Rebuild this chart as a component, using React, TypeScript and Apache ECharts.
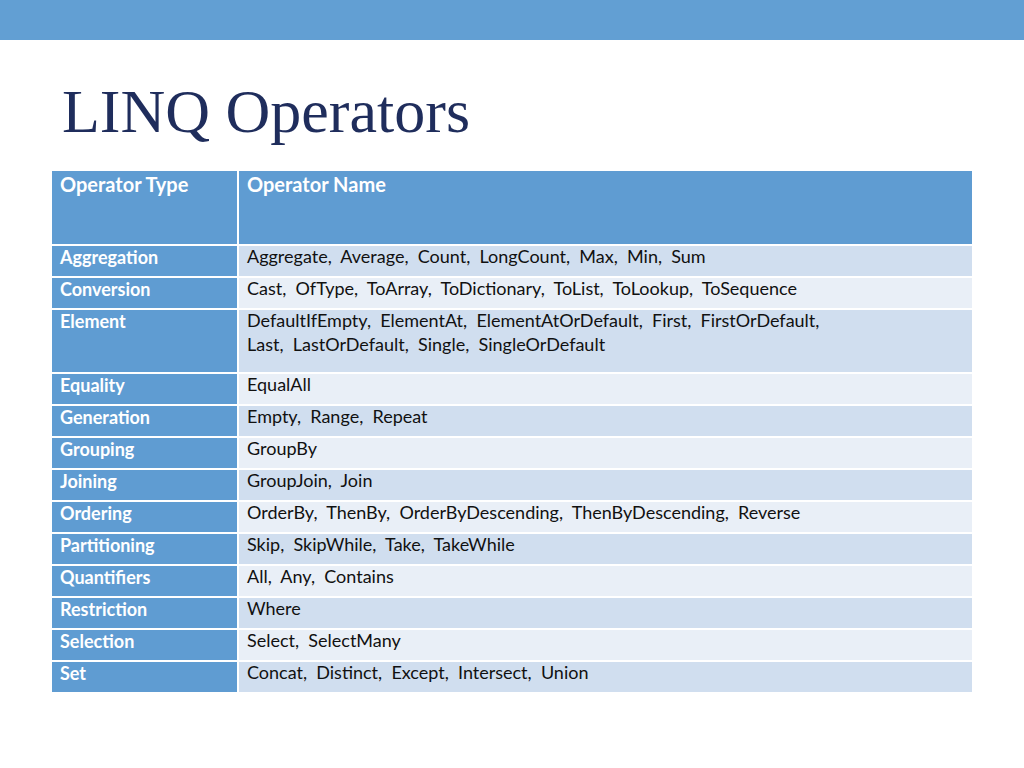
import React, { useEffect, useRef } from 'react';
import * as echarts from 'echarts';

const headers = ['Operator Type', 'Operator Name'];
const types = ['Aggregation', 'Conversion', 'Element', 'Equality', 'Generation', 'Grouping', 'Joining', 'Ordering', 'Partitioning', 'Quantifiers', 'Restriction', 'Selection', 'Set'];
const names = [
    'Aggregate,  Average,  Count,  LongCount,  Max,  Min,  Sum',
    'Cast,  OfType,  ToArray,  ToDictionary,  ToList,  ToLookup,  ToSequence',
    'DefaultIfEmpty,  ElementAt,  ElementAtOrDefault,  First,  FirstOrDefault,\nLast,  LastOrDefault,  Single,  SingleOrDefault',
    'EqualAll',
    'Empty,  Range,  Repeat',
    'GroupBy',
    'GroupJoin,  Join',
    'OrderBy,  ThenBy,  OrderByDescending,  ThenByDescending,  Reverse',
    'Skip,  SkipWhile,  Take,  TakeWhile',
    'All,  Any,  Contains',
    'Where',
    'Select,  SelectMany',
    'Concat,  Distinct,  Except,  Intersect,  Union',
];

const App: React.FC = () => {
    const chartRef = useRef<HTMLDivElement>(null);

    useEffect(() => {
        if (!chartRef.current) return;
        document.body.style.margin = '0';
        const chart = echarts.init(chartRef.current, undefined, { renderer: 'svg' });

        const font = 'Lato, "Open Sans", sans-serif';
        const blue = '#5F9CD2';
        const x0 = 52, x1 = 239, x2 = 972;
        const elements: any[] = [
            { type: 'rect', shape: { x: 0, y: 0, width: 1024, height: 40 }, style: { fill: '#629FD3' } },
            { type: 'text', x: 62, y: 80, style: { text: 'LINQ Operators', font: '62px "Liberation Serif", serif', fill: '#1F2D5C' } },
            { type: 'rect', shape: { x: x0, y: 171, width: x1 - x0 - 2, height: 73 }, style: { fill: blue } },
            { type: 'rect', shape: { x: x1, y: 171, width: x2 - x1, height: 73 }, style: { fill: blue } },
            { type: 'text', x: 60, y: 174, style: { text: headers[0], font: 'bold 20px ' + font, fill: '#fff' } },
            { type: 'text', x: 247, y: 174, style: { text: headers[1], font: 'bold 20px ' + font, fill: '#fff' } },
        ];
        let y = 246;
        types.forEach((t, i) => {
            const lines = names[i].split('\n').length;
            const h = lines === 1 ? 30 : 62;
            elements.push(
                { type: 'rect', shape: { x: x0, y, width: x1 - x0 - 2, height: h }, style: { fill: blue } },
                { type: 'rect', shape: { x: x1, y, width: x2 - x1, height: h }, style: { fill: i % 2 === 0 ? '#D0DEEF' : '#E9EFF7' } },
                { type: 'text', x: 60, y: y + 2, style: { text: t, font: 'bold 18px ' + font, fill: '#fff' } },
                { type: 'text', x: 247, y: y - 2, style: { text: names[i], font: '18px ' + font, fill: '#111', lineHeight: 24 } },
            );
            y += h + 2;
        });

        chart.setOption({ animation: false, graphic: { elements } });
        return () => chart.dispose();
    }, []);

    return <div ref={chartRef} style={{ width: 1024, height: 768 }} />;
};

export default App;
